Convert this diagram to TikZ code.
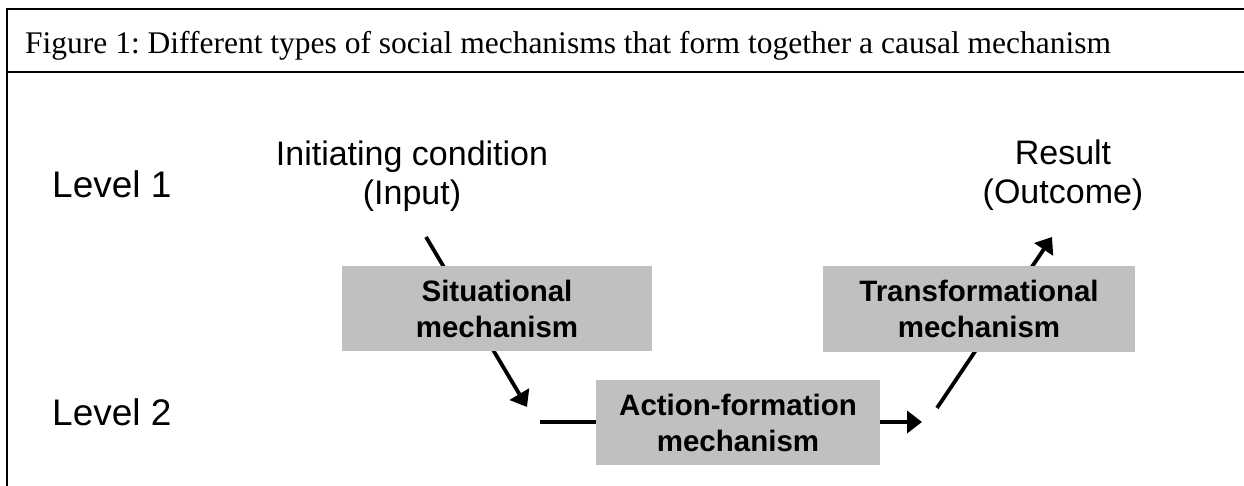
\documentclass[tikz,border=0pt]{standalone}
\usepackage{fontspec}
\setmainfont{Liberation Serif}
\setsansfont{Liberation Sans}
\usepackage{tikz}
\usetikzlibrary{arrows.meta}
\usetikzlibrary{backgrounds}
\definecolor{boxgray}{RGB}{192,192,192}
\frenchspacing

\begin{document}
\begin{tikzpicture}[x=1pt, y=-1pt,
        mechbox/.style={fill=boxgray, inner sep=0, minimum height=85pt, align=center,
            font=\sffamily\bfseries\fontsize{29.5}{36}\selectfont},
        levellabel/.style={anchor=base west, inner sep=0,
            font=\sffamily\fontsize{37}{44}\selectfont},
        condlabel/.style={anchor=base, inner sep=0, align=center,
            font=\sffamily\fontsize{34}{39}\selectfont},
        flow/.style={line width=3.8pt, -{Triangle[length=15pt, width=22pt]}}]
        \useasboundingbox (0,0) rectangle (1244,486);
        \draw[line width=2.5pt]
            (1244,9) -- (7,9) -- (7,486)
            (7,72) -- (1244,72);
        \node[anchor=base west, inner sep=0, font=\fontsize{31.5}{36}\selectfont]
            (caption) at (25,54)
            {Figure 1: Different types of social mechanisms that form together a causal mechanism};
        \node[levellabel] (lvl1) at (52,198) {Level 1};
        \node[levellabel] (lvl2) at (52,425) {Level 2};
        % base sits on the last line
        \node[condlabel] (input) at (412,205) {Initiating condition\\(Input)};
        \node[condlabel] (outcome) at (1063,204) {Result\\(Outcome)};
        \node[mechbox, minimum width=310pt] (situational) at (497,308.5) {Situational\\mechanism};
        \node[mechbox, minimum width=284pt] (action) at (738,422.5) {Action-formation\\mechanism};
        \node[mechbox, minimum width=312pt, minimum height=86pt] (transform) at (979,309)
            {Transformational\\mechanism};
        \coordinate (sitIn) at (426,237);
        \coordinate (sitOut) at (527,407);
        \coordinate (actIn) at (540,422);
        \coordinate (actOut) at (922,422);
        \coordinate (transIn) at (937,408);
        \coordinate (transOut) at (1052,237);
        \begin{scope}[on background layer]
            \draw[flow] (sitIn) -- (sitOut);
            \draw[flow] (actIn) -- (actOut);
            \draw[flow] (transIn) -- (transOut);
        \end{scope}
    \end{tikzpicture}
\end{document}
